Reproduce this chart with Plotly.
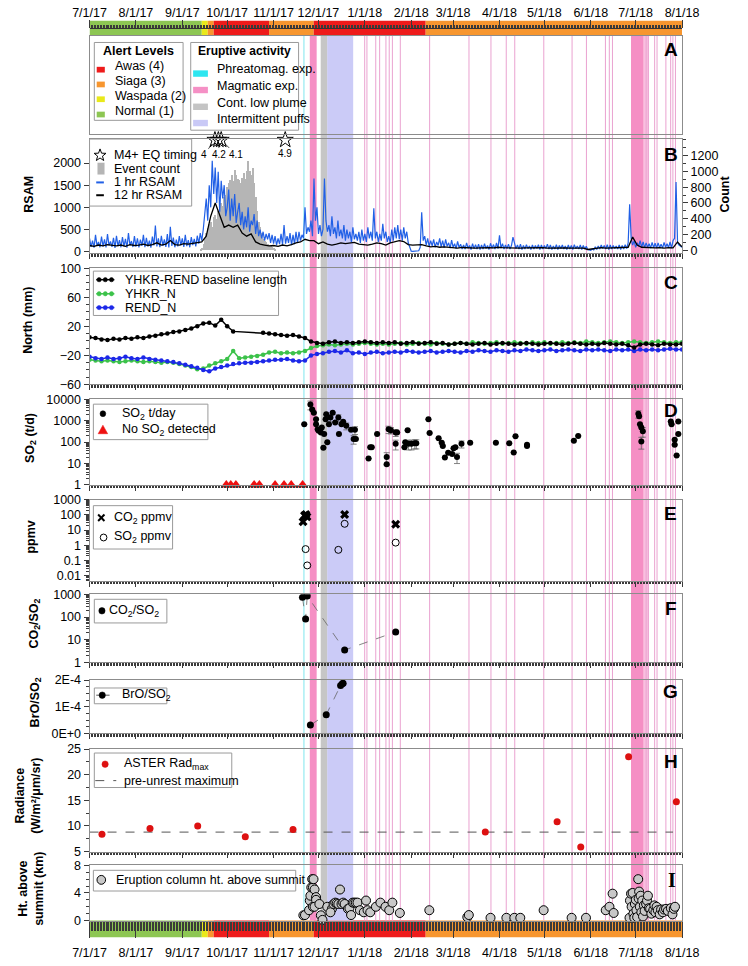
import math
import pandas as pd
import plotly.graph_objects as go

W, H = 748, 966
START, END = "2017-07-01", "2018-08-01"
BASE = pd.Timestamp(START)
FONT = "Liberation Sans, Arial, sans-serif"

# ---------------- tick labels ----------------
MONTH_TICKS = ["2017-07-01", "2017-08-01", "2017-09-01", "2017-10-01", "2017-11-01", "2017-12-01",
               "2018-01-01", "2018-02-01", "2018-03-01", "2018-04-01", "2018-05-01", "2018-06-01",
               "2018-07-01", "2018-08-01"]
MONTH_LABELS = ["7/1/17", "8/1/17", "9/1/17", "10/1/17", "11/1/17", "12/1/17", "1/1/18", "2/1/18",
                "3/1/18", "4/1/18", "5/1/18", "6/1/18", "7/1/18", "8/1/18"]

# ---------------- alert levels ----------------
ALERT_PERIODS = [("2017-07-01", "2017-09-14", "Normal"), ("2017-09-14", "2017-09-18", "Waspada"),
                 ("2017-09-18", "2017-09-22", "Siaga"), ("2017-09-22", "2017-10-29", "Awas"),
                 ("2017-10-29", "2017-11-27 20:00", "Siaga"), ("2017-11-27 20:00", "2018-02-10 16:00", "Awas"),
                 ("2018-02-10 16:00", "2018-08-01", "Siaga")]
ALERT_COLORS = {"Awas": "#ee1b1b", "Siaga": "#f7962f", "Waspada": "#e9e91a", "Normal": "#8dc653"}
ALERT_LEGEND = [("Awas (4)", "Awas"), ("Siaga (3)", "Siaga"), ("Waspada (2)", "Waspada"), ("Normal (1)", "Normal")]

# ---------------- eruptive activity (days since 2017-07-01) ----------------
PHREATOMAGMATIC_DAYS = [143.3]
MAGMATIC_PERIODS = [(147.2, 151.8), (361.9, 370.4)]
MAGMATIC_FAINT_PERIODS = [(370.4, 373.8)]
PLUME_PERIODS = [(154.5, 158.8)]
PUFF_PERIODS = [(158.8, 176.2)]
MAGMATIC_EVENT_DAYS = [183.9, 185.4, 191.3, 193.9, 198.1, 200.3, 202.4, 207.7, 227.3, 253.6, 268.3,
                       278.5, 284.2, 303.6, 322.5, 332.1, 344.8, 347.4, 349.5, 372.0, 373.5, 377.7,
                       379.3, 385.2, 388.4, 389.9, 391.6]
ERUPT_LEGEND = [("Phreatomag. exp.", "#2ee6f0"), ("Magmatic exp.", "#f590c5"),
                ("Cont. low plume", "#c4c4c4"), ("Intermittent puffs", "#c9c9f6")]

# ---------------- panel B: RSAM / event count ----------------
RSAM_1HR = [  # daily samples from 2017-07-01
    300, 110, 250, 90, 380, 130, 220, 100, 340, 120,
    280, 95, 400, 140, 230, 110, 310, 85, 360, 125,
    260, 100, 330, 120, 290, 90, 420, 140, 240, 105,
    350, 115, 300, 95, 270, 130, 380, 100, 310, 120,
    250, 90, 340, 140, 590, 120, 300, 100, 360, 130,
    280, 110, 400, 95, 560, 130, 320, 100, 270, 120,
    350, 140, 300, 110, 380, 125, 260, 100, 330, 150,
    290, 120, 360, 180, 420, 250, 500, 800, 1200, 700,
    1500, 1000, 2050, 1300, 1900, 1100, 1800, 900, 1600, 1200,
    1500, 800, 1000, 1400, 700, 1200, 800, 1300, 650, 900,
    1100, 600, 900, 500, 800, 550, 1000, 450, 700, 600,
    850, 400, 700, 350, 500, 300, 450, 250, 400, 280,
    420, 200, 380, 180, 350, 150, 300, 170, 400, 160,
    600, 180, 350, 200, 420, 150, 380, 170, 450, 200,
    450, 250, 380, 300, 1000, 400, 550, 450, 700, 350,
    1650, 700, 1000, 400, 600, 350, 500, 1650, 700, 450,
    600, 350, 800, 400, 550, 300, 700, 350, 500, 300,
    600, 250, 500, 300, 450, 220, 550, 280, 400, 250,
    450, 200, 500, 250, 400, 220, 550, 300, 450, 250,
    980, 300, 450, 220, 400, 250, 630, 300, 450, 220,
    350, 200, 500, 250, 550, 300, 600, 280, 500, 250,
    550, 300, 450, 200, 100, 10, 5, 5, 5, 10,
    20, 100, 890, 250, 350, 150, 300, 120, 250, 130,
    280, 100, 220, 140, 300, 110, 250, 90, 280, 120,
    200, 80, 260, 100, 180, 70, 230, 90, 170, 60,
    150, 60, 200, 80, 140, 50, 180, 70, 160, 60,
    170, 50, 150, 60, 180, 70, 140, 50, 190, 80,
    160, 60, 200, 70, 370, 80, 180, 60, 150, 70,
    170, 60, 140, 330, 180, 70, 150, 60, 170, 50,
    140, 60, 160, 70, 130, 50, 150, 60, 140, 70,
    160, 50, 150, 60, 140, 70, 170, 60, 150, 50,
    130, 60, 160, 50, 140, 70, 150, 60, 130, 50,
    150, 60, 140, 50, 160, 70, 130, 60, 150, 50,
    140, 60, 120, 50, 40, 30, 60, 40, 110, 50,
    130, 60, 150, 70, 140, 60, 160, 50, 150, 60,
    140, 70, 130, 60, 150, 50, 140, 60, 160, 70,
    200, 1070, 300, 150, 250, 100, 200, 120, 250, 100,
    220, 90, 200, 100, 180, 80, 210, 90, 190, 80,
    200, 90, 170, 80, 210, 100, 180, 90, 220, 80,
    250, 300, 1570, 200, 150, 120, 100,
]
RSAM_12HR = [  # every 3 days from 2017-07-01
    140, 120, 150, 130, 160, 140, 130, 150, 120, 160,
    140, 150, 170, 140, 160, 200, 150, 170, 250, 160,
    150, 180, 170, 190, 200, 220, 350, 800, 1100, 800,
    550, 600, 550, 600, 420, 350, 400, 220, 170, 150,
    130, 140, 120, 150, 130, 160, 200, 220, 280, 250,
    250, 180, 220, 170, 150, 170, 200, 180, 190, 210,
    170, 160, 150, 170, 200, 180, 150, 200, 230, 250,
    230, 160, 150, 150, 160, 130, 110, 120, 100, 110,
    100, 90, 80, 95, 85, 90, 80, 85, 95, 90,
    85, 100, 90, 85, 95, 90, 80, 85, 90, 80,
    85, 90, 80, 85, 80, 90, 85, 80, 85, 90,
    80, 50, 60, 85, 90, 80, 85, 90, 80, 85,
    100, 330, 150, 100, 90, 95, 85, 90, 80, 90,
    85, 220, 110,
]
EVENT_START = "2017-09-13"
EVENT_COUNT = [10, 30, 80, 150, 220, 280, 330, 360, 300, 420,
               450, 400, 500, 520, 600, 560, 680, 700, 800, 850,
               890, 950, 880, 1020, 950, 900, 890, 850, 920, 980,
               900, 1000, 1130, 1000, 950, 1040, 850, 680, 500, 360,
               300, 220, 150, 120, 100, 80, 70, 50, 40, 30, 20]
EQ_DAY = [83.8, 86.1, 88.0, 130.8]
EQ_MAG = ["4", "4.2", "4.1", "4.9"]
EQ_LEVEL = 2520

# ---------------- panel C: GPS (every 4 days) ----------------
BASELINE = [5, 4, 2, 1, 3, 2, 4, 3, 5, 4,
            6, 7, 9, 10, 12, 13, 15, 17, 20, 24,
            25, 21, 29, 20, 13, None, None, None, None, 11,
            10, 9, 8, 7, 8, 6, 4, -1, -3, -4,
            -2, -1, -3, -2, -3, -2, -1, -2, -3, -2,
            -3, -2, -4, -3, -2, -4, -3, -2, -4, -3,
            -5, -4, -3, -4, -5, -4, -3, -5, -4, -3,
            -4, -5, -4, -3, -4, -5, -4, -3, -4, -5,
            -4, -3, -4, -5, -4, -5, -3, -4, -5, -4,
            -6, -9, -5, -4, -5, -6, -4, -5, -5, -4]
YHKR_N = [-26, -27, -28, -27, -28, -29, -28, -27, -28, -29,
          -28, -29, -30, -29, -30, -32, -34, -36, -39, -38,
          -34, -31, -28, -25, -14, -24, -23, -22, -21, -19,
          -16, -15, -17, -16, -17, -16, -14, -10, -7, -6,
          -5, -6, -5, -4, -5, -4, -3, -4, -5, -4,
          -5, -4, -3, -5, -4, -3, -4, -5, -3, -4,
          -5, -4, -3, -4, -2, -3, -4, -3, -2, -4,
          -3, -2, -3, -4, -2, -3, -2, -4, -3, -2,
          -3, -2, -3, -1, -2, -3, -2, -1, -2, -3,
          -2, -1, -2, -3, -2, -1, -2, -3, -2, -2]
REND_N = [-22, -24, -25, -23, -25, -24, -22, -24, -25, -23,
          -25, -26, -27, -28, -29, -31, -33, -35, -37, -40,
          -42, -38, -36, -34, -32, -31, -30, -30, -29, -28,
          -27, -26, -26, -25, -27, -28, -27, -20, -18, -17,
          -15, -14, -16, -13, -17, -16, -18, -16, -15, -17,
          -16, -15, -16, -14, -15, -16, -15, -14, -16, -15,
          -14, -15, -16, -14, -15, -13, -14, -15, -13, -14,
          -15, -13, -14, -12, -13, -14, -13, -12, -14, -13,
          -12, -13, -14, -12, -13, -12, -13, -14, -12, -13,
          -12, -14, -12, -13, -12, -13, -12, -11, -12, -12]

# ---------------- panel D: SO2 flux ----------------
SO2_DAY = [143.5, 147.6, 148.8, 149.9, 151.4, 151.4, 152.5, 153.1, 154.6, 155.2,
           156.3, 156.8, 157.8, 158.2, 158.9, 160.0, 161.0, 162.5, 164.2, 166.3,
           166.7, 168.4, 169.5, 171.6, 174.8, 176.5, 177.4, 178.0, 186.5, 187.6,
           188.6, 192.2, 198.6, 198.6, 199.9, 201.4, 204.6, 205.6, 204.6, 210.5,
           211.0, 212.6, 213.1, 215.2, 217.4, 218.4, 226.5, 227.3, 233.3, 235.4,
           236.1, 237.5, 239.7, 242.4, 243.3, 244.5, 245.6, 248.6, 254.4, 271.6,
           280.5, 283.5, 284.7, 292.4, 292.4, 323.7, 326.6, 366.8, 367.3, 367.9,
           368.8, 369.8, 368.8, 388.5, 389.0, 391.1, 391.1, 392.4, 393.5, 393.5]
SO2_TPD = [684, 5700, 3350, 2350, 1160, 684, 400, 338, 283, 481,
           54, 237, 1160, 1970, 98, 684, 1390, 2350, 817, 1390,
           237, 684, 900, 573, 376, 140, 376, 140, 17, 58,
           58, 237, 20, 9.3, 400, 360, 283, 283, 83, 58,
           98, 360, 83, 83, 88, 88, 1160, 265, 150, 93,
           66, 19, 32, 28, 51, 58, 20, 83, 93, 93,
           88, 33, 185, 75, 66, 117, 195, 2100, 1600, 684,
           481, 320, 107, 910, 684, 128, 75, 24, 910, 237]
SO2_ERR = [0, 2500, 0, 0, 0, 0, 0, 0, 0, 0,
           0, 0, 0, 0, 0, 0, 500, 0, 0, 500,
           0, 0, 0, 200, 0, 60, 150, 0, 0, 0,
           0, 0, 12, 0, 150, 120, 100, 0, 40, 0,
           0, 0, 40, 40, 40, 40, 0, 0, 0, 0,
           0, 0, 0, 0, 0, 0, 10, 30, 0, 0,
           0, 0, 0, 0, 0, 0, 0, 800, 0, 0,
           0, 150, 60, 0, 0, 0, 0, 0, 0, 0]
NO_SO2_DAY = [91.4, 94.4, 97.8, 110.0, 113.5, 124.0, 130.0, 134.8, 142.4]
NO_SO2_LEVEL = 1

# ---------------- panels E, F, G ----------------
CO2_PPM_DAY = [142.7, 143.7, 144.6, 145.3, 170.5, 204.6]
CO2_PPM = [35, 90, 107, 75, 107, 24]
SO2_PPM_DAY = [144.4, 145.5, 166.3, 170.5, 204.6]
SO2_PPM = [0.56, 0.047, 0.5, 26, 1.5]
CO2_SO2_DAY = [142.3, 144.4, 145.5, 170.5, 204.6]
CO2_SO2 = [740, 82, 850, 3.5, 22]
BRO_SO2_DAY = [147.6, 158.2, 167.8, 168.9, 169.5]
BRO_SO2 = [3.1e-5, 7.0e-5, 1.8e-4, 1.86e-4, 1.88e-4]

# ---------------- panel H: ASTER radiance ----------------
RAD_DAY = [8.3, 40.4, 72.3, 104.1, 136.0, 264.5, 312.5, 328.3, 360.3, 392.2]
RAD_MAX = [8.4, 9.5, 10.0, 7.9, 9.3, 8.8, 10.8, 5.9, 23.5, 14.7]
PRE_UNREST_MAX = 8.8
PRE_UNREST_SPAN = ["2017-07-01", "2018-07-26"]

# ---------------- panel I: eruption column height ----------------
HT_DAY = [142.9, 144.0, 146.7, 147.2, 147.6, 148.2, 149.3, 148.8, 149.7, 150.4,
          151.4, 149.3, 152.5, 151.4, 150.4, 154.6, 155.7, 153.6, 158.9, 162.0,
          161.0, 163.1, 164.2, 165.2, 166.3, 167.4, 168.4, 169.5, 170.5, 172.7,
          173.7, 174.8, 175.9, 176.9, 178.0, 179.1, 180.7, 183.3, 184.8, 185.8,
          187.6, 191.4, 194.4, 197.8, 200.3, 202.4, 207.4, 227.1, 252.5, 253.5,
          268.0, 278.6, 283.9, 287.9, 303.5, 322.2, 331.8, 345.0, 347.5, 349.6,
          350.3, 360.9, 361.2, 361.9, 362.3, 363.0, 363.5, 364.1, 364.5, 365.1,
          365.5, 366.0, 366.7, 367.0, 367.3, 367.8, 368.3, 368.8, 369.4, 369.9,
          370.5, 371.0, 372.0, 372.6, 373.2, 373.8, 374.7, 375.5, 376.8, 377.5,
          378.2, 379.0, 379.8, 381.1, 382.0, 383.2, 384.0, 385.3, 386.5, 388.5,
          389.6, 390.5, 391.3]
HT_KM = [0.76, 0.8, 1.5, 2.9, 3.6, 4.8, 4.8, 6.0, 6.0, 4.5,
         3.4, 2.0, 2.4, 3.0, 2.0, 0.76, 0.1, 2.4, 2.0, 1.7,
         1.2, 2.4, 2.6, 2.5, 2.4, 4.5, 2.4, 2.6, 2.4, 1.7,
         1.8, 0.8, 2.6, 2.6, 2.6, 2.6, 1.5, 1.2, 2.9, 1.5,
         1.2, 2.0, 2.6, 2.0, 1.5, 2.6, 1.1, 1.5, 0.5, 0.8,
         0.4, 0.4, 0.4, 0.4, 1.5, 0.4, 0.4, 1.5, 2.0, 3.9,
         1.1, 0.4, 2.9, 3.9, 2.0, 4.0, 1.0, 0.4, 2.4, 3.0,
         1.5, 0.5, 6.0, 3.2, 4.2, 2.0, 3.6, 1.2, 2.9, 0.6,
         2.2, 1.4, 2.4, 2.9, 3.6, 1.8, 1.7, 1.0, 1.5, 2.2,
         1.2, 2.0, 1.5, 0.9, 1.6, 1.2, 1.6, 1.7, 1.4, 1.8,
         0.9, 1.7, 2.0]

# ---------------- layout geometry (pixels) ----------------
X0_PX, X1_PX = 76, 696.7
PANELS = {"A": (29, 129), "B": (134, 250), "C": (265, 383), "D": (398, 485), "E": (500, 582),
          "F": (596, 665), "G": (683, 737), "H": (753, 857), "I": (871, 927)}
TOPBAR = (14, 29)
BOTBAR = (927, 944)
AX_LINE = "#8c8c8c"
TICK_C = "#3a3a3a"


def days_to_dates(days):
    return [BASE + pd.Timedelta(days=float(v)) for v in days]


def d2s(day):
    return (BASE + pd.Timedelta(days=float(day))).strftime("%Y-%m-%d %H:%M:%S")


def ydom(key):
    top, bot = PANELS[key]
    return [1 - bot / H, 1 - top / H]


XDOM = [X0_PX / W, X1_PX / W]

shapes = []
annotations = []


def rect_px(x0, y0, x1, y1, fill, line_color=None, lw=0, layer="above"):
    shapes.append(dict(type="rect", xref="paper", yref="paper", x0=x0 / W, x1=x1 / W,
                       y0=1 - y1 / H, y1=1 - y0 / H, fillcolor=fill,
                       line=dict(color=line_color or fill, width=lw), layer=layer))


def line_px(x0, y0, x1, y1, color, width=1, dash="solid"):
    shapes.append(dict(type="line", xref="paper", yref="paper", x0=x0 / W, x1=x1 / W,
                       y0=1 - y0 / H, y1=1 - y1 / H, line=dict(color=color, width=width, dash=dash),
                       layer="above"))


def circle_px(cx, cy, r, fill, line_color, lw=1):
    shapes.append(dict(type="circle", xref="paper", yref="paper", x0=(cx - r) / W, x1=(cx + r) / W,
                       y0=1 - (cy + r) / H, y1=1 - (cy - r) / H, fillcolor=fill,
                       line=dict(color=line_color, width=lw), layer="above"))


def path_px(points, fill, line_color, lw=1):
    p = "M " + " L ".join(f"{x / W:.5f},{1 - y / H:.5f}" for x, y in points) + " Z"
    shapes.append(dict(type="path", xref="paper", yref="paper", path=p, fillcolor=fill,
                       line=dict(color=line_color, width=lw), layer="above"))


def text_px(x, y, s, size=12.5, bold=False, xanchor="left", angle=0, family=FONT):
    if bold:
        s = f"<b>{s}</b>"
    annotations.append(dict(xref="paper", yref="paper", x=x / W, y=1 - y / H, text=s, showarrow=False,
                            xanchor=xanchor, yanchor="middle", textangle=angle,
                            font=dict(size=size, family=family, color="black")))


# ---------------- background bars and bands ----------------
for y0, y1 in (TOPBAR, BOTBAR):
    for a, b, lvl in ALERT_PERIODS:
        shapes.append(dict(type="rect", xref="x", yref="paper", x0=a, x1=b, y0=1 - y1 / H, y1=1 - y0 / H,
                           fillcolor=ALERT_COLORS[lvl], line=dict(width=0), layer="below"))

YB_TOP, YB_BOT = 1 - PANELS["A"][0] / H, 1 - PANELS["I"][1] / H


def vband(d0, d1, color):
    shapes.append(dict(type="rect", xref="x", yref="paper", x0=d2s(d0), x1=d2s(d1), y0=YB_BOT, y1=YB_TOP,
                       fillcolor=color, line=dict(width=0), layer="below"))


def vline(day, color, width=1):
    shapes.append(dict(type="line", xref="x", yref="paper", x0=d2s(day), x1=d2s(day), y0=YB_BOT, y1=YB_TOP,
                       line=dict(color=color, width=width), layer="below"))


for a, b in PUFF_PERIODS:
    vband(a, b, "#cbcbf7")
for a, b in PLUME_PERIODS:
    vband(a, b, "#c6c6c6")
for a, b in MAGMATIC_PERIODS:
    vband(a, b, "#f58fc4")
for a, b in MAGMATIC_FAINT_PERIODS:
    vband(a, b, "#f9c0df")
for dd in MAGMATIC_EVENT_DAYS:
    vline(dd, "#eaa2d0", 1)
for dd in PHREATOMAGMATIC_DAYS:
    vline(dd, "#7fe6ee", 1)

# ---------------- traces ----------------
fig = go.Figure()
rsam_dates = pd.date_range(START, periods=len(RSAM_1HR), freq="D")
rsam12_dates = pd.date_range(START, periods=len(RSAM_12HR), freq="3D")
event_dates = pd.date_range(EVENT_START, periods=len(EVENT_COUNT), freq="D")
gps_dates = pd.date_range(START, periods=len(BASELINE), freq="4D")

fig.add_trace(go.Bar(x=event_dates, y=EVENT_COUNT, marker=dict(color="#b5b5b5", line=dict(width=0)),
                     width=86400000 * 0.95, xaxis="x", yaxis="y", showlegend=False))
fig.add_trace(go.Scatter(x=rsam_dates, y=RSAM_1HR, mode="lines", line=dict(color="#2160e6", width=1.2),
                         xaxis="x", yaxis="y2", showlegend=False))
fig.add_trace(go.Scatter(x=rsam12_dates, y=RSAM_12HR, mode="lines", line=dict(color="black", width=1.3),
                         xaxis="x", yaxis="y2", showlegend=False))
fig.add_trace(go.Scatter(x=days_to_dates(EQ_DAY), y=[EQ_LEVEL] * len(EQ_DAY), mode="markers",
                         marker=dict(symbol="star-open", size=12, color="black", line=dict(width=1)),
                         cliponaxis=False, xaxis="x", yaxis="y2", showlegend=False))

# GPS
for vals, col in ((YHKR_N, "#3cc24a"), (REND_N, "#1c28e8"), (BASELINE, "black")):
    fig.add_trace(go.Scatter(x=gps_dates, y=vals, mode="lines+markers", connectgaps=True,
                             line=dict(color=col, width=1.5), marker=dict(color=col, size=4.5),
                             xaxis="x2", yaxis="y3", showlegend=False))

# SO2 flux
fig.add_trace(go.Scatter(x=days_to_dates(SO2_DAY), y=SO2_TPD, mode="markers",
                         marker=dict(color="black", size=6),
                         error_y=dict(type="data", array=SO2_ERR, color="#666", thickness=0.8, width=3),
                         xaxis="x3", yaxis="y4", showlegend=False))
fig.add_trace(go.Scatter(x=days_to_dates(NO_SO2_DAY), y=[NO_SO2_LEVEL] * len(NO_SO2_DAY), mode="markers",
                         marker=dict(color="#ee1111", size=10, symbol="triangle-up"), cliponaxis=False,
                         xaxis="x3", yaxis="y4", showlegend=False))

# ppmv
fig.add_trace(go.Scatter(x=days_to_dates(CO2_PPM_DAY), y=CO2_PPM, mode="markers",
                         marker=dict(color="black", size=8, symbol="x", line=dict(width=0)),
                         xaxis="x4", yaxis="y5", showlegend=False))
fig.add_trace(go.Scatter(x=days_to_dates(SO2_PPM_DAY), y=SO2_PPM, mode="markers",
                         marker=dict(color="black", size=7, symbol="circle-open", line=dict(width=1)),
                         xaxis="x4", yaxis="y5", showlegend=False))
# CO2/SO2
fig.add_trace(go.Scatter(x=days_to_dates(CO2_SO2_DAY), y=CO2_SO2, mode="lines+markers",
                         line=dict(color="#666", width=0.8, dash="dash"), marker=dict(color="black", size=7),
                         xaxis="x5", yaxis="y6", showlegend=False))
# BrO/SO2
fig.add_trace(go.Scatter(x=days_to_dates(BRO_SO2_DAY), y=BRO_SO2, mode="lines+markers",
                         line=dict(color="#666", width=0.8, dash="dash"), marker=dict(color="black", size=7),
                         xaxis="x6", yaxis="y7", showlegend=False))
# Radiance
fig.add_trace(go.Scatter(x=PRE_UNREST_SPAN, y=[PRE_UNREST_MAX, PRE_UNREST_MAX], mode="lines",
                         line=dict(color="#555", width=1, dash="dash"), xaxis="x7", yaxis="y8",
                         showlegend=False))
fig.add_trace(go.Scatter(x=days_to_dates(RAD_DAY), y=RAD_MAX, mode="markers",
                         marker=dict(color="#dd1111", size=7), xaxis="x7", yaxis="y8", showlegend=False))
# Column height
fig.add_trace(go.Scatter(x=days_to_dates(HT_DAY), y=HT_KM, mode="markers", cliponaxis=False,
                         marker=dict(color="#c8c8c8", size=9, line=dict(color="black", width=1)),
                         xaxis="x8", yaxis="y9", showlegend=False))
# dummies for frame / free axes
for xa in ("x9", "x10", "x11", "x12"):
    fig.add_trace(go.Scatter(x=[START], y=[None], mode="markers", xaxis=xa, yaxis="y10",
                             showlegend=False, hoverinfo="skip"))


# ---------------- axes ----------------
def xcfg(anchor, big=False, ticks=True):
    c = dict(type="date", domain=XDOM, range=[START, END], anchor=anchor, showline=True, mirror=True,
             linecolor=AX_LINE, linewidth=1, showgrid=False, zeroline=False, showticklabels=False,
             tickmode="array", tickvals=MONTH_TICKS)
    if ticks:
        c.update(ticks="outside", ticklen=16 if big else 5, tickwidth=1, tickcolor=TICK_C,
                 minor=dict(ticks="outside", tickmode="linear", tick0=START, dtick=86400000,
                            ticklen=9 if big else 2.5, tickwidth=0.7, tickcolor=TICK_C, showgrid=False))
    else:
        c.update(ticks="")
    return c


def ycfg(key, anchor, rng, **kw):
    c = dict(domain=ydom(key), range=rng, anchor=anchor, showline=True, mirror=True, linecolor=AX_LINE,
             showgrid=False, zeroline=False, ticks="outside", ticklen=5, tickcolor=TICK_C,
             tickfont=dict(size=12.5, family=FONT, color="black"))
    c.update(kw)
    return c


LOGMINOR = dict(ticks="outside", ticklen=2.5, dtick="D1", tickcolor=TICK_C, showgrid=False)

layout = dict(
    xaxis=xcfg("y"), xaxis2=xcfg("y3"), xaxis3=xcfg("y4"), xaxis4=xcfg("y5"), xaxis5=xcfg("y6"),
    xaxis6=xcfg("y7"), xaxis7=xcfg("y8"), xaxis8=xcfg("y9", big=True), xaxis9=xcfg("y10", ticks=False),
    xaxis10=dict(type="date", domain=XDOM, range=[START, END], anchor="free", position=1 - 21.7 / H,
                 side="top", showline=True, linecolor="#333", linewidth=1, showgrid=False, zeroline=False,
                 tickmode="array", tickvals=MONTH_TICKS, showticklabels=False, ticks="outside", ticklen=8,
                 tickcolor=TICK_C, minor=dict(ticks="outside", tickmode="linear", tick0=START,
                                              dtick=86400000, ticklen=3.5, tickwidth=0.7, tickcolor=TICK_C)),
    xaxis11=dict(type="date", domain=XDOM, range=[START, END], anchor="free", position=1 - 12.5 / H,
                 side="top", showline=False, showgrid=False, zeroline=False, ticks="",
                 tickmode="array", tickvals=MONTH_TICKS, ticktext=MONTH_LABELS,
                 tickfont=dict(size=12.5, family=FONT, color="black")),
    xaxis12=dict(type="date", domain=XDOM, range=[START, END], anchor="free", position=1 - 950 / H,
                 side="bottom", showline=False, showgrid=False, zeroline=False, ticks="",
                 tickmode="array", tickvals=MONTH_TICKS, ticktext=MONTH_LABELS,
                 tickfont=dict(size=12.5, family=FONT, color="black")),
    yaxis=ycfg("B", "x", [-37, 1408], side="right", tickvals=[0, 200, 400, 600, 800, 1000, 1200],
               minor=dict(ticks="outside", ticklen=2.5, dtick=100, tickcolor=TICK_C)),
    yaxis2=ycfg("B", "x", [-38, 2540], side="left", overlaying="y",
                tickvals=[0, 500, 1000, 1500, 2000]),
    yaxis3=ycfg("C", "x2", [-60, 100], tick0=-60, dtick=40,
                minor=dict(ticks="outside", ticklen=2.5, dtick=10, tickcolor=TICK_C)),
    yaxis4=ycfg("D", "x3", [0, 4], type="log", tickvals=[1, 10, 100, 1000, 10000],
                ticktext=["1", "10", "100", "1000", "10000"], minor=LOGMINOR),
    yaxis5=ycfg("E", "x4", [-2.325, 3], type="log", tickvals=[0.01, 0.1, 1, 10, 100, 1000],
                ticktext=["0.01", "0.1", "1", "10", "100", "1000"], minor=LOGMINOR),
    yaxis6=ycfg("F", "x5", [0, 3], type="log", tickvals=[1, 10, 100, 1000],
                ticktext=["1", "10", "100", "1000"], minor=LOGMINOR),
    yaxis7=ycfg("G", "x6", [0, 2e-4], tickvals=[0, 1e-4, 2e-4], ticktext=["0E+0", "1E-4", "2E-4"],
                minor=dict(ticks="outside", ticklen=2.5, dtick=2.5e-5, tickcolor=TICK_C)),
    yaxis8=ycfg("H", "x7", [5, 25], tickvals=[5, 10, 15, 20, 25],
                minor=dict(ticks="outside", ticklen=2.5, dtick=2.5, tickcolor=TICK_C)),
    yaxis9=ycfg("I", "x8", [0, 8], tickvals=[0, 4, 8],
                minor=dict(ticks="outside", ticklen=2.5, dtick=1, tickcolor=TICK_C)),
    yaxis10=dict(domain=ydom("A"), range=[0, 1], anchor="x9", showline=True, mirror=True,
                 linecolor=AX_LINE, showgrid=False, zeroline=False, ticks="", showticklabels=False),
)

# ---------------- legends (drawn) ----------------
BOX = "#9a9a9a"
# Alert levels
rect_px(81, 36, 174, 115, "white", BOX, 1)
text_px(127.5, 45, "Alert Levels", bold=True, xanchor="center")
for (lab, lvl), ty in zip(ALERT_LEGEND, [60, 75, 90, 105.5]):
    rect_px(83.5, ty + 0.7, 92, ty + 6.5, ALERT_COLORS[lvl])
    text_px(101, ty, lab)
# Eruptive activity
rect_px(182, 36, 295, 125, "white", BOX, 1)
text_px(238, 45, "Eruptive activity", bold=True, xanchor="center", size=12)
for (lab, col), ty in zip(ERUPT_LEGEND, [63.3, 80, 97, 113.5]):
    rect_px(184.5, ty + 1, 200, ty + 7.5, col)
    text_px(207, ty, lab)

# B
rect_px(76, 134, 183, 202, "white", BOX, 1)
star = []
for k in range(10):
    ang = -math.pi / 2 + k * math.pi / 5
    r = 6.5 if k % 2 == 0 else 2.7
    star.append((87 + r * math.cos(ang), 150.5 + r * math.sin(ang)))
path_px(star, "white", "black", 1)
text_px(100, 150, "M4+ EQ timing")
rect_px(84.3, 158, 91.7, 170, "#b5b5b5")
text_px(100, 164, "Event count")
line_px(83, 178, 91, 178, "#2160e6", 2)
text_px(100, 178, "1 hr RSAM")
line_px(83, 191, 91, 191, "black", 2)
text_px(100, 191, "12 hr RSAM")

# C
rect_px(80, 268, 274, 313, "white", BOX, 1)
for ty, col, lab in ((276.7, "black", "YHKR-REND baseline length"), (291, "#3cc24a", "YHKR_N"),
                     (305, "#1c28e8", "REND_N")):
    line_px(83, ty, 102, ty, col, 1.5)
    for cx in (86, 92.5, 99):
        circle_px(cx, ty, 2.2, col, col, 0.5)
    text_px(111, ty, lab)

# D
rect_px(80, 403, 200, 439, "white", BOX, 1)
circle_px(90, 412.7, 3, "black", "black", 0.5)
text_px(107.7, 412.7, "SO<sub>2</sub> t/day")
path_px([(90, 424.3), (85, 433), (95, 433)], "#ee1111", "#ee1111", 0.5)
text_px(107.7, 429.3, "No SO<sub>2</sub> detected")

# E
rect_px(80, 506, 163, 550, "white", BOX, 1)
line_px(85, 515, 91.6, 521.6, "black", 2)
line_px(85, 521.6, 91.6, 515, "black", 2)
text_px(100, 518.3, "CO<sub>2</sub> ppmv")
circle_px(90.7, 538.3, 3.5, "white", "black", 1)
text_px(100, 538.3, "SO<sub>2</sub> ppmv")

# F
rect_px(81, 601, 157, 625, "white", BOX, 1)
circle_px(89, 612.7, 3.3, "black", "black", 0.5)
text_px(94, 612.7, "CO<sub>2</sub>/SO<sub>2</sub>")

# G
rect_px(81, 691, 157, 707, "white", BOX, 1)
line_px(83, 698.3, 97, 698.3, "#555", 1)
circle_px(89.3, 698.3, 3.3, "black", "black", 0.5)
text_px(108.3, 698.3, "BrO/SO<sub>2</sub>")

# H
rect_px(81, 757, 225, 792, "white", BOX, 1)
circle_px(92.3, 768.3, 3.3, "#dd1111", "#dd1111", 0.5)
text_px(110, 768.3, "ASTER Rad<sub>max</sub>")
line_px(82, 785, 104, 785, "#555", 1, "dash")
text_px(110, 785, "pre-unrest maximum")

# I
rect_px(80, 876, 292, 897, "white", BOX, 1)
circle_px(88.3, 885.7, 4.5, "#c8c8c8", "black", 1)
text_px(101.7, 885.7, "Eruption column ht. above summit")

# ---------------- panel letters & axis titles ----------------
for letter, (lx, ly) in {"A": (685, 43.5), "B": (685, 150), "C": (685, 280), "D": (685, 409),
                         "E": (685, 513.5), "F": (685, 610), "G": (685, 695), "H": (685, 765.5)}.items():
    text_px(lx, ly, letter, size=19, bold=True, xanchor="center")
text_px(686.5, 885.5, "I", size=20, bold=True, xanchor="center", family="Liberation Serif, Times New Roman, serif")

for s, (tx, ty) in {"RSAM": (13, 190), "North (mm)": (12, 318), "SO<sub>2</sub> (t/d)": (14, 437),
                    "ppmv": (15, 538), "CO<sub>2</sub>/SO<sub>2</sub>": (18.5, 626),
                    "BrO/SO<sub>2</sub>": (19.5, 706), "Radiance<br>(W/m²/μm/sr)": (12, 800),
                    "Ht. above<br>summit (km)": (14.5, 895)}.items():
    text_px(tx, ty, s, bold=True, xanchor="center", angle=-90)
text_px(742, 190, "Count", bold=True, xanchor="center", angle=-90)

# EQ labels with leader lines
for dd, mag, dx in zip(EQ_DAY, EQ_MAG, [-11, 1, 15, 0]):
    if dx == 0:
        annotations.append(dict(xref="x", yref="y2", x=d2s(dd), y=EQ_LEVEL, text=mag, showarrow=False,
                                yshift=-14, font=dict(size=10, family=FONT, color="black")))
    else:
        annotations.append(dict(xref="x", yref="y2", x=d2s(dd), y=EQ_LEVEL, text=mag, showarrow=True,
                                arrowhead=0, arrowwidth=0.7, arrowcolor="black", ax=dx, ay=15, standoff=5,
                                font=dict(size=10, family=FONT, color="black")))

fig.update_layout(
    width=W, height=H, autosize=False, margin=dict(l=0, r=0, t=0, b=0, pad=0), paper_bgcolor="white",
    plot_bgcolor="rgba(0,0,0,0)", font=dict(family=FONT, size=12.5, color="black"),
    showlegend=False, hovermode=False, bargap=0, shapes=shapes, annotations=annotations, **layout)

fig.write_html("out.html", config={"displayModeBar": False, "responsive": False},
               post_script="document.body.style.margin='0px';document.body.style.overflow='hidden';")
